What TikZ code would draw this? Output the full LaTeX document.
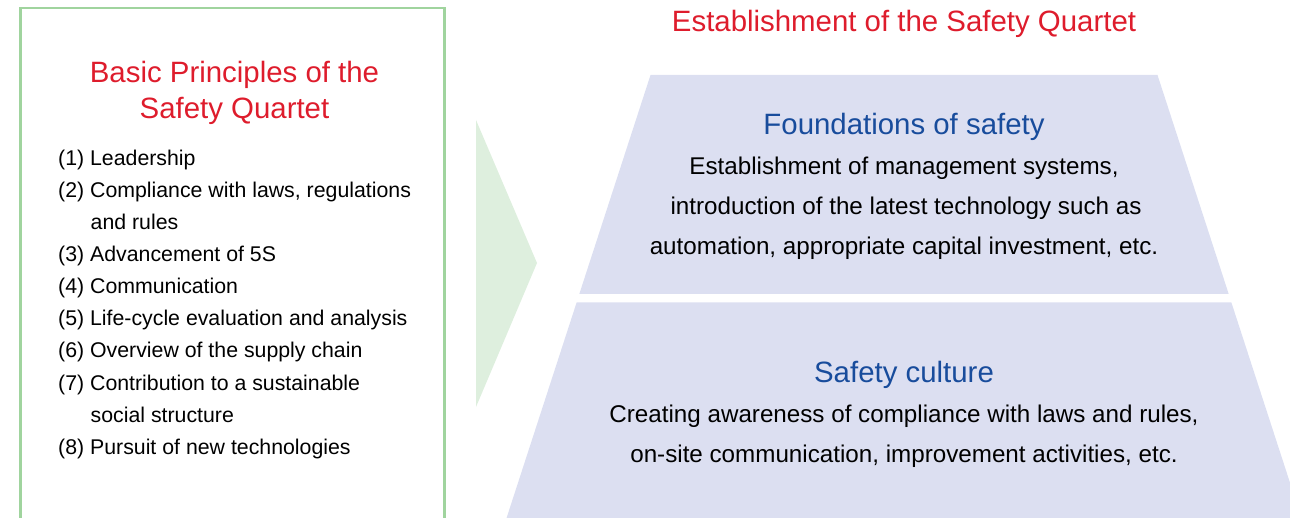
\documentclass[tikz,border=0pt]{standalone}
\usepackage{fontspec}
\setmainfont{Liberation Sans}

\definecolor{qred}{RGB}{222,28,44}
\definecolor{qblue}{RGB}{24,76,156}
\definecolor{boxgreen}{RGB}{160,212,158}
\definecolor{arrowgreen}{RGB}{222,239,222}
\definecolor{tierfill}{RGB}{220,223,241}

\tikzset{
  redhead/.style={font=\fontsize{29.4}{34}\selectfont, text=qred, inner sep=0pt, anchor=base},
  bluehead/.style={font=\fontsize{29.4}{34}\selectfont, text=qblue, inner sep=0pt, anchor=base},
  bodyline/.style={font=\fontsize{24.2}{28}\selectfont, text=black, inner sep=0pt, anchor=base},
  listline/.style={font=\fontsize{21.3}{25}\selectfont, text=black, inner sep=0pt, anchor=base west},
  tier/.style={fill=tierfill, draw=none},
  principlesbox/.style={draw=boxgreen, line width=2.6pt},
}

\begin{document}
\begin{tikzpicture}[x=1pt, y=-1pt]
\useasboundingbox (0,0) rectangle (1290,518);
\clip (0,0) rectangle (1290,518);

% left panel: basic principles
\draw[principlesbox] (20.7,8) rectangle (444.7,560);
\node[redhead] (bp1) at (234.5,83) {Basic Principles of the};
\node[redhead] (bp2) at (234.5,119) {Safety Quartet};

\node[listline] (p1)  at (58,166) {(1) Leadership};
\node[listline] (p2)  at (58,198) {(2) Compliance with laws, regulations};
\node[listline] (p2b) at (90.5,230) {and rules};
\node[listline] (p3)  at (58,262) {(3) Advancement of 5S};
\node[listline] (p4)  at (58,294) {(4) Communication};
\node[listline] (p5)  at (58,326) {(5) Life-cycle evaluation and analysis};
\node[listline] (p6)  at (58,358) {(6) Overview of the supply chain};
\node[listline] (p7)  at (58,390) {(7) Contribution to a sustainable};
\node[listline] (p7b) at (90.5,422) {social structure};
\node[listline] (p8)  at (58,454) {(8) Pursuit of new technologies};

% chevron pointing to the pyramid
\fill[arrowgreen] (476,120) -- (537,263) -- (476,407) -- cycle;

% pyramid tiers (common side slope)
\fill[tier] (650.5,75) -- (1157.5,75) -- (1228.7,294) -- (579.3,294) -- cycle;
\fill[tier] (576.6,302.5) -- (1231.4,302.5) -- (1302.1,520) -- (505.9,520) -- cycle;

% titles and tier texts
\node[redhead] (title) at (904,32) {Establishment of the Safety Quartet};

\node[bluehead] (found) at (904,135) {Foundations of safety};
\node[bodyline] (f1) at (904,175) {Establishment of management systems,};
\node[bodyline] (f2) at (906,215) {introduction of the latest technology such as};
\node[bodyline] (f3) at (904,255) {automation, appropriate capital investment, etc.};

\node[bluehead] (cult) at (904,382) {Safety culture};
\node[bodyline] (c1) at (904,422.5) {Creating awareness of compliance with laws and rules,};
\node[bodyline] (c2) at (904,462) {on-site communication, improvement activities, etc.};
\end{tikzpicture}
\end{document}
